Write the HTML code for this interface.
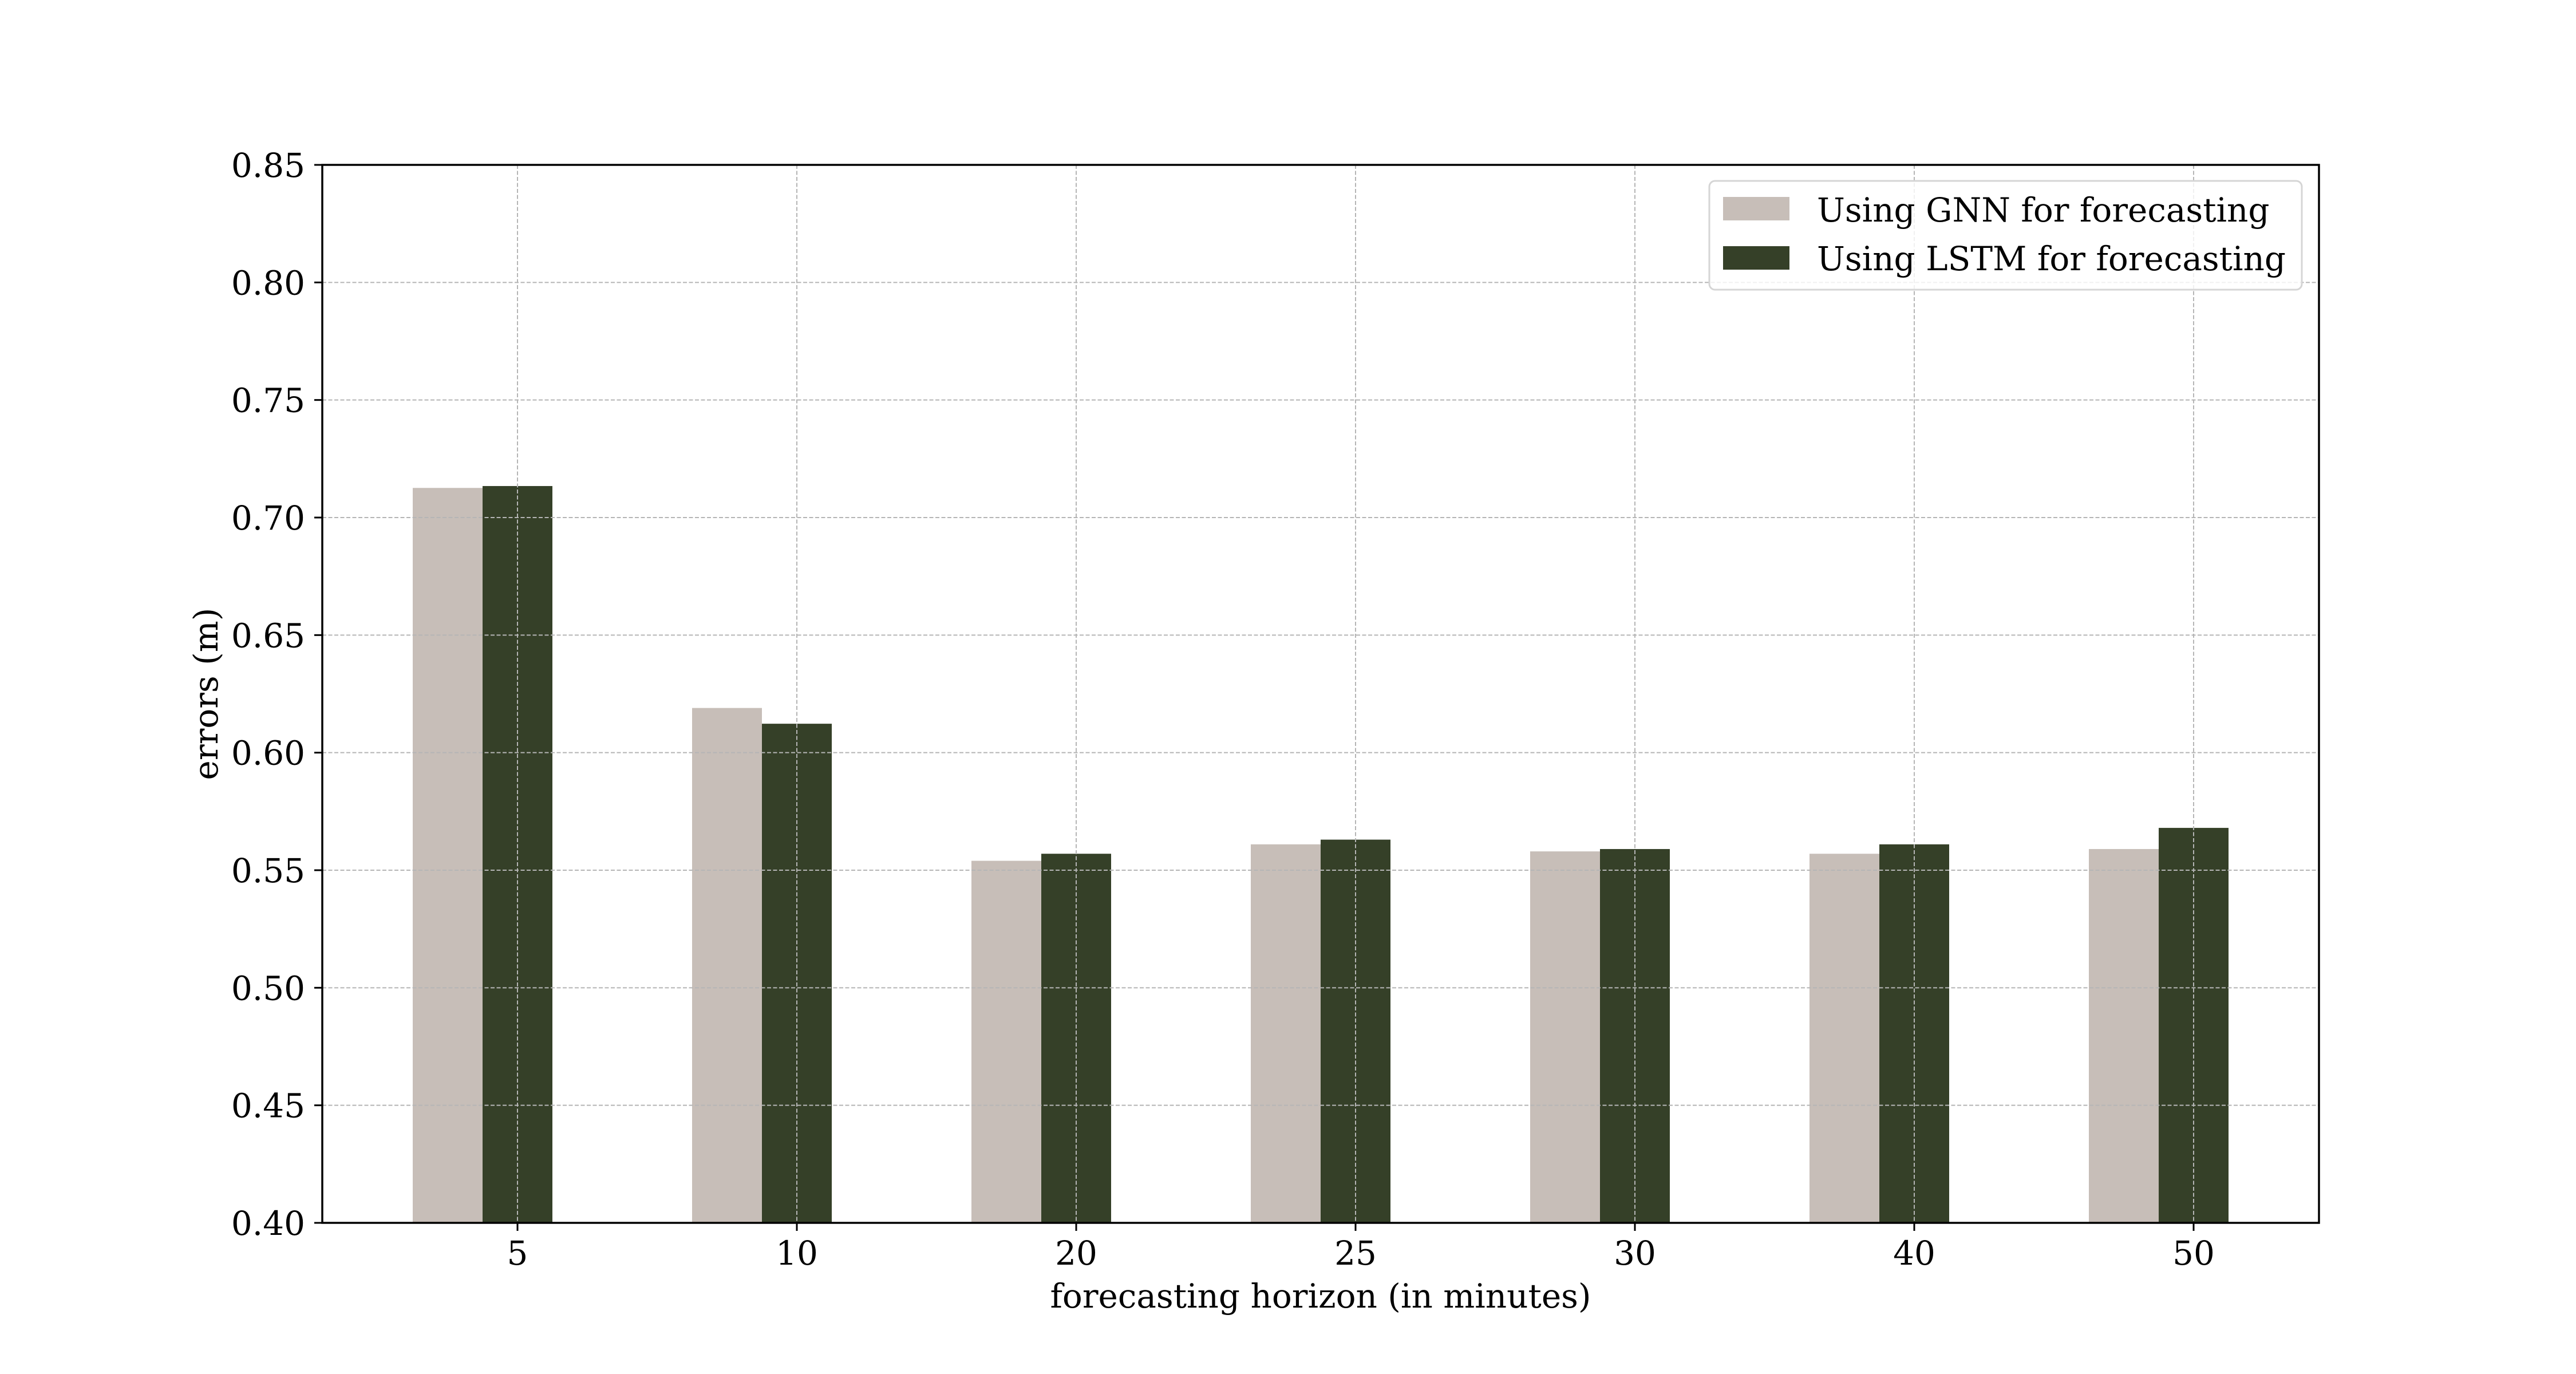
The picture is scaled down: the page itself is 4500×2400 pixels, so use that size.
<!DOCTYPE html>
<html><head><meta charset="utf-8"><style>
html,body{margin:0;padding:0;background:#fff;}
svg{display:block;font-family:"DejaVu Serif","Liberation Serif",serif;}
</style></head><body>
<svg id="chart" width="4500" height="2400" viewBox="0 0 4500 2400" xmlns="http://www.w3.org/2000/svg">
<rect x="0" y="0" width="4500" height="2400" fill="#fff"/>
<g id="bars"></g>
<g id="grid"></g>
<g id="axes"></g>
<text x="2307" y="2284" font-size="58" text-anchor="middle">forecasting horizon (in minutes)</text>
<text x="0" y="0" font-size="58" text-anchor="middle" transform="translate(380,1212) rotate(-90)">errors (m)</text>
<g>
<rect x="2986" y="316" width="1035" height="190" rx="10" fill="#fff" fill-opacity="0.8" stroke="#d5d5d5" stroke-width="3"/>
<rect x="3010" y="344" width="116" height="41" fill="#c7beb8"/>
<text x="3174" y="387" font-size="58">Using GNN for forecasting</text>
<rect x="3010" y="430" width="116" height="41" fill="#354028"/>
<text x="3174" y="472" font-size="58">Using LSTM for forecasting</text>
</g>
</svg>
<script>
const categories = ["5","10","20","25","30","40","50"];
const gnnValues = [0.7126,0.619,0.554,0.561,0.558,0.557,0.559];
const lstmValues = [0.7134,0.6123,0.557,0.563,0.559,0.561,0.568];
const yTicks = [0.40,0.45,0.50,0.55,0.60,0.65,0.70,0.75,0.80,0.85];
const yTickLabels = ["0.40","0.45","0.50","0.55","0.60","0.65","0.70","0.75","0.80","0.85"];

const NS = "http://www.w3.org/2000/svg";
const L = 563, R = 4051, T = 288, B = 2136;
const yMin = 0.40, yMax = 0.85;
const x0 = 904, step = 488, bw = 122;
function xScale(i){ return x0 + i*step; }
function yScale(v){ return B - (v - yMin)/(yMax - yMin)*(B - T); }
function mk(tag, attrs, parent){ const e=document.createElementNS(NS,tag); for(const k in attrs) e.setAttribute(k,attrs[k]); parent.appendChild(e); return e; }

const bars = document.getElementById('bars');
categories.forEach((c,i)=>{
  const xc = xScale(i);
  const g1 = mk('rect',{x:xc-1.5*bw, y:yScale(gnnValues[i]), width:bw, height:B-yScale(gnnValues[i]), fill:'#c7beb8'}, bars);
  
  
  const g2 = mk('rect',{x:xc-0.5*bw, y:yScale(lstmValues[i]), width:bw, height:B-yScale(lstmValues[i]), fill:'#354028'}, bars);
  
  
});

const grid = document.getElementById('grid');
yTicks.forEach((v,i)=>{
  if(i===0 || i===yTicks.length-1) return;
  const ln = mk('line',{x1:L, x2:R, y1:yScale(v), y2:yScale(v), stroke:'#b5b5b5', 'stroke-width':2, 'stroke-dasharray':'7 3.5'}, grid);
  
  
});
categories.forEach((c,i)=>{
  const ln = mk('line',{x1:xScale(i), x2:xScale(i), y1:T, y2:B, stroke:'#b5b5b5', 'stroke-width':2, 'stroke-dasharray':'7 3.5'}, grid);
  
  
});

const axes = document.getElementById('axes');
const frame = mk('rect',{x:L, y:T, width:R-L, height:B-T, fill:'none', stroke:'#000', 'stroke-width':3.5}, axes);


yTicks.forEach((v,i)=>{
  const y = yScale(v);
  const t = mk('line',{x1:L-14, x2:L, y1:y, y2:y, stroke:'#000', 'stroke-width':3}, axes);
  
  
  const lb = mk('text',{x:L-30, y:y+21, 'font-size':58, 'text-anchor':'end'}, axes);
  lb.textContent = yTickLabels[i];
  
  
});
categories.forEach((c,i)=>{
  const x = xScale(i);
  const t = mk('line',{x1:x, x2:x, y1:B, y2:B+14, stroke:'#000', 'stroke-width':3}, axes);
  
  
  const lb = mk('text',{x:x, y:2209, 'font-size':58, 'text-anchor':'middle'}, axes);
  lb.textContent = c;
  
  
});
</script>
</body></html>
